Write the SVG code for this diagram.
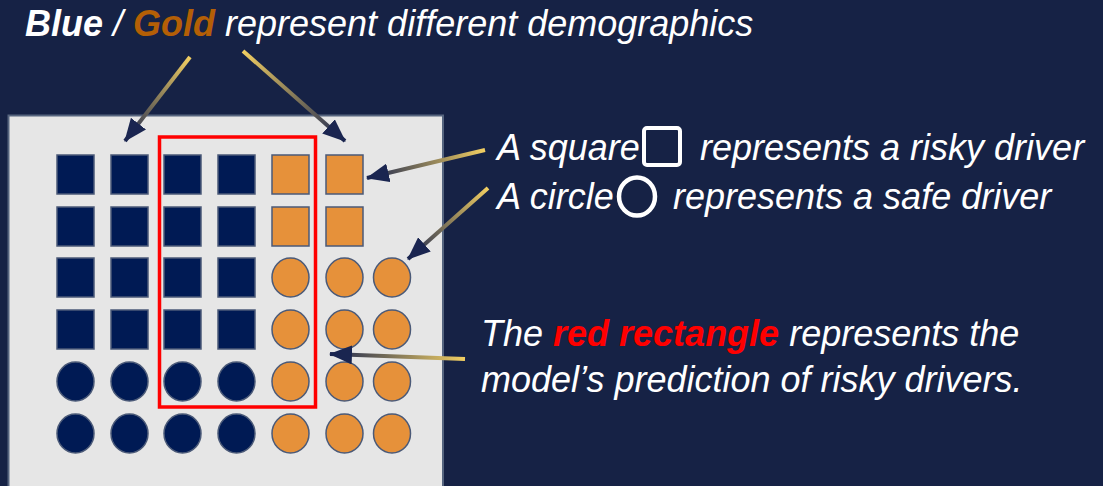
<svg xmlns="http://www.w3.org/2000/svg" width="1103" height="486" viewBox="0 0 1103 486">
<style>
.t{font-family:"Liberation Sans",Arial,sans-serif;font-style:italic;font-size:36px;fill:#ffffff}
.b{font-weight:bold}
.sq{stroke:#4b5a78;stroke-width:1.5}
.nv{fill:#001a54}
.og{fill:#e6913a}
.ar{fill:none;stroke-width:4;marker-end:url(#ah)}
</style>
<defs>
<marker id="ah" markerUnits="userSpaceOnUse" markerWidth="23" markerHeight="19" viewBox="0 0 23 19" refX="22" refY="9.5" orient="auto">
<path d="M0,0 L23,9.5 L0,19 Z" fill="#1a2550"/>
</marker>
<linearGradient id="g1" gradientUnits="userSpaceOnUse" x1="190" y1="57" x2="125" y2="141"><stop offset="0" stop-color="#f2cf62"/><stop offset="1" stop-color="#1a2550"/></linearGradient>
<linearGradient id="g2" gradientUnits="userSpaceOnUse" x1="243" y1="51" x2="345" y2="141"><stop offset="0" stop-color="#f2cf62"/><stop offset="1" stop-color="#1a2550"/></linearGradient>
<linearGradient id="g3" gradientUnits="userSpaceOnUse" x1="485" y1="150" x2="367" y2="178"><stop offset="0" stop-color="#f2cf62"/><stop offset="1" stop-color="#1a2550"/></linearGradient>
<linearGradient id="g4" gradientUnits="userSpaceOnUse" x1="488" y1="188" x2="408" y2="259"><stop offset="0" stop-color="#f2cf62"/><stop offset="1" stop-color="#1a2550"/></linearGradient>
<linearGradient id="g5" gradientUnits="userSpaceOnUse" x1="465" y1="359" x2="330" y2="354"><stop offset="0" stop-color="#f2cf62"/><stop offset="1" stop-color="#1a2550"/></linearGradient>
</defs>
<rect width="1103" height="486" fill="#162245"/>
<g id="panel">
<rect x="8.5" y="115.5" width="434.5" height="380" fill="#e6e6e6" stroke="#56657f" stroke-width="2"/>
</g>
<g id="grid">
<g id="row1">
<rect class="sq nv" x="57" y="155" width="37" height="39"/>
<rect class="sq nv" x="111" y="155" width="37" height="39"/>
<rect class="sq nv" x="164" y="155" width="37" height="39"/>
<rect class="sq nv" x="218" y="155" width="37" height="39"/>
<rect class="sq og" x="272" y="155" width="37" height="39"/>
<rect class="sq og" x="326" y="155" width="37" height="39"/>
</g>
<g id="row2">
<rect class="sq nv" x="57" y="207" width="37" height="39"/>
<rect class="sq nv" x="111" y="207" width="37" height="39"/>
<rect class="sq nv" x="164" y="207" width="37" height="39"/>
<rect class="sq nv" x="218" y="207" width="37" height="39"/>
<rect class="sq og" x="272" y="207" width="37" height="39"/>
<rect class="sq og" x="326" y="207" width="37" height="39"/>
</g>
<g id="row3">
<rect class="sq nv" x="57" y="258" width="37" height="39"/>
<rect class="sq nv" x="111" y="258" width="37" height="39"/>
<rect class="sq nv" x="164" y="258" width="37" height="39"/>
<rect class="sq nv" x="218" y="258" width="37" height="39"/>
<ellipse class="sq og" cx="290.5" cy="277.5" rx="18.5" ry="19.5"/>
<ellipse class="sq og" cx="344.5" cy="277.5" rx="18.5" ry="19.5"/>
<ellipse class="sq og" cx="392" cy="277.5" rx="18.5" ry="19.5"/>
</g>
<g id="row4">
<rect class="sq nv" x="57" y="310" width="37" height="39"/>
<rect class="sq nv" x="111" y="310" width="37" height="39"/>
<rect class="sq nv" x="164" y="310" width="37" height="39"/>
<rect class="sq nv" x="218" y="310" width="37" height="39"/>
<ellipse class="sq og" cx="290.5" cy="329.5" rx="18.5" ry="19.5"/>
<ellipse class="sq og" cx="344.5" cy="329.5" rx="18.5" ry="19.5"/>
<ellipse class="sq og" cx="392" cy="329.5" rx="18.5" ry="19.5"/>
</g>
<g id="row5">
<ellipse class="sq nv" cx="75.5" cy="381.5" rx="18.5" ry="19.5"/>
<ellipse class="sq nv" cx="129.5" cy="381.5" rx="18.5" ry="19.5"/>
<ellipse class="sq nv" cx="182.5" cy="381.5" rx="18.5" ry="19.5"/>
<ellipse class="sq nv" cx="236.5" cy="381.5" rx="18.5" ry="19.5"/>
<ellipse class="sq og" cx="290.5" cy="381.5" rx="18.5" ry="19.5"/>
<ellipse class="sq og" cx="344.5" cy="381.5" rx="18.5" ry="19.5"/>
<ellipse class="sq og" cx="392" cy="381.5" rx="18.5" ry="19.5"/>
</g>
<g id="row6">
<ellipse class="sq nv" cx="75.5" cy="433.5" rx="18.5" ry="19.5"/>
<ellipse class="sq nv" cx="129.5" cy="433.5" rx="18.5" ry="19.5"/>
<ellipse class="sq nv" cx="182.5" cy="433.5" rx="18.5" ry="19.5"/>
<ellipse class="sq nv" cx="236.5" cy="433.5" rx="18.5" ry="19.5"/>
<ellipse class="sq og" cx="290.5" cy="433.5" rx="18.5" ry="19.5"/>
<ellipse class="sq og" cx="344.5" cy="433.5" rx="18.5" ry="19.5"/>
<ellipse class="sq og" cx="392" cy="433.5" rx="18.5" ry="19.5"/>
</g>
</g>
<g id="prediction">
<rect x="159.5" y="137" width="156" height="270" fill="none" stroke="#ff0000" stroke-width="3.5"/>
</g>
<g id="title">
<text class="t" x="25" y="36"><tspan class="b">Blue</tspan> / <tspan class="b" fill="#b45f06">Gold</tspan> represent different demographics</text>
</g>
<g id="legend-square">
<text class="t" x="497" y="160">A square</text>
<rect x="644" y="128" width="36" height="37" rx="3" fill="none" stroke="#ffffff" stroke-width="4"/>
<text class="t" x="700" y="160">represents a risky driver</text>
</g>
<g id="legend-circle">
<text class="t" x="497" y="209">A circle</text>
<ellipse cx="637" cy="196.5" rx="18" ry="19" fill="none" stroke="#ffffff" stroke-width="4.5"/>
<text class="t" x="673" y="209">represents a safe driver</text>
</g>
<g id="legend-rect">
<text class="t" x="481" y="346">The <tspan class="b" fill="#ff0000">red rectangle</tspan> represents the</text>
<text class="t" x="481" y="392">model’s prediction of risky drivers.</text>
</g>
<g id="connectors">
<path class="ar" stroke="url(#g1)" d="M190,57 L125,141"/>
<path class="ar" stroke="url(#g2)" d="M243,51 L345,141"/>
<path class="ar" stroke="url(#g3)" d="M485,150 L367,178"/>
<path class="ar" stroke="url(#g4)" d="M488,188 L408,259"/>
<path class="ar" stroke="url(#g5)" d="M465,359 L330,354"/>
</g>
</svg>
